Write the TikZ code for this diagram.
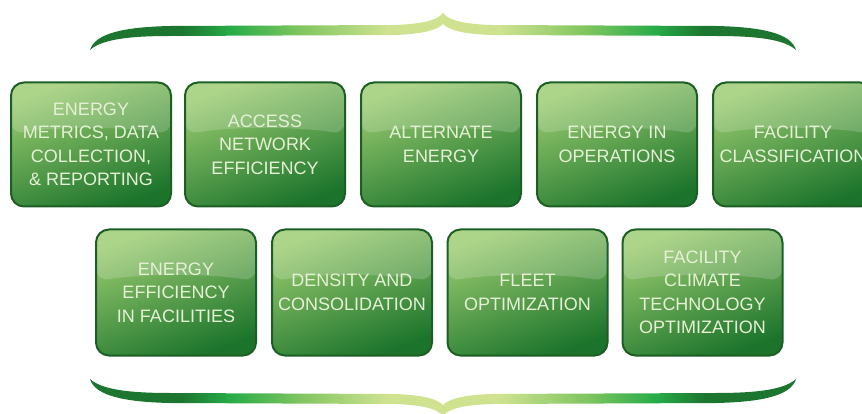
\documentclass[tikz,border=0pt]{standalone}
\usepackage{fontspec}
\setmainfont{Liberation Sans}
\usetikzlibrary{calc}

% colours of the tiles
\definecolor{tiletop}{RGB}{155,204,112}
\definecolor{tilemid}{RGB}{84,162,70}
\definecolor{tilebot}{RGB}{28,116,44}
\definecolor{tileedge}{RGB}{28,94,36}
\definecolor{tiletext}{RGB}{230,240,214}
% colours of the braces
\definecolor{bdark}{RGB}{28,118,48}
\definecolor{bgreen}{RGB}{40,172,72}
\definecolor{bmid}{RGB}{130,198,96}
\definecolor{blight}{RGB}{206,226,144}

\pgfdeclarehorizontalshading{bracegrad}{100bp}{%
  color(0bp)=(bdark); color(25bp)=(bdark); color(31.5bp)=(bdark);
  color(35bp)=(bgreen); color(40bp)=(bmid); color(46bp)=(blight);
  color(50bp)=(blight); color(54bp)=(blight); color(60bp)=(bmid);
  color(65bp)=(bgreen); color(68.5bp)=(bdark); color(75bp)=(bdark);
  color(100bp)=(bdark)}

\tikzset{
  tile/.style={
    draw=tileedge, line width=2pt, rounded corners=13pt,
    minimum width=160pt, minimum height=#1, inner sep=0pt,
    align=center, text=tiletext,
    font=\fontsize{18}{23.5}\selectfont,
    top color=tiletop, middle color=tilemid, bottom color=tilebot,
    shading angle=20,
    path picture={
      \coordinate (gnw) at (path picture bounding box.north west);
      \coordinate (gne) at (path picture bounding box.north east);
      \fill[white, opacity=0.18]
        (gnw) -- (gne) -- ($(gne)+(0,52)$)
        .. controls ($(gne)+(-45,44)$) and ($(gnw)+(45,44)$) .. ($(gnw)+(0,52)$)
        -- cycle;
    }},
  tile/.default=124pt,
  brace/.style={shading=bracegrad}
}

% one curly brace, opening downwards, tip at (443,13)
\newcommand{\bracepath}{%
  (90,50) .. controls (95,33) and (125,27) .. (170,26) -- (395,25)
  .. controls (420,24) and (437,21) .. (443,13)
  .. controls (449,21) and (466,24) .. (491,25) -- (716,26)
  .. controls (761,27) and (791,33) .. (796,50)
  .. controls (785,40) and (760,36) .. (716,36) -- (491,35)
  .. controls (466,34) and (450,31) .. (443,24)
  .. controls (436,31) and (420,34) .. (395,35) -- (170,36)
  .. controls (126,36) and (101,40) .. (90,50) -- cycle}

\begin{document}
\begin{tikzpicture}[x=1pt,y=-1pt]
  \useasboundingbox (0,0) rectangle (862,414);
  \clip (0,0) rectangle (862,414);

  % braces above and below the tiles
  \shade[brace] \bracepath;
  \begin{scope}[shift={(0,429)}, yscale=-1]
    \shade[brace] \bracepath;
  \end{scope}

  % upper row
  \node[tile] (metrics)  at (91,144.5)  {ENERGY\\METRICS, DATA\\COLLECTION,\\\& REPORTING};
  \node[tile] (access)   at (265,144.5) {ACCESS\\NETWORK\\EFFICIENCY};
  \node[tile] (alt)      at (441,144.5) {ALTERNATE\\ENERGY};
  \node[tile] (ops)      at (617,144.5) {ENERGY IN\\OPERATIONS};
  \node[tile] (class)    at (793,144.5) {FACILITY\\CLASSIFICATION};

  % lower row
  \node[tile=126pt] (facil)   at (176,292.5)   {ENERGY\\EFFICIENCY\\IN FACILITIES};
  \node[tile=126pt] (density) at (352,292.5)   {DENSITY AND\\CONSOLIDATION};
  \node[tile=126pt] (fleet)   at (527.5,292.5) {FLEET\\OPTIMIZATION};
  \node[tile=126pt] (climate) at (702.5,292.5) {FACILITY\\CLIMATE\\TECHNOLOGY\\OPTIMIZATION};
\end{tikzpicture}
\end{document}
